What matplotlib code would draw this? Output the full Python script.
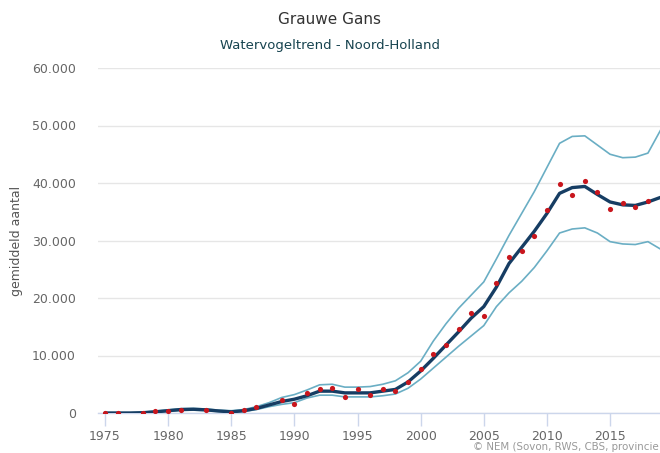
import numpy as np
import matplotlib
matplotlib.use("Agg")
import matplotlib.pyplot as plt
from matplotlib.ticker import FuncFormatter

# jaren en telling (gemiddeld aantal)
years = list(range(1975, 2020))

trend = [0, 0, 0, 50, 200, 400, 600, 650, 550, 350, 200, 400, 800, 1400, 2000,
         2400, 3000, 3800, 3800, 3500, 3500, 3500, 3800, 4100, 5400,
         7300, 9500, 11800, 14100, 16500, 18500, 21900, 26000, 28800, 31600,
         34700, 38200, 39200, 39400, 38000, 36700, 36200, 36100, 36700, 37500]

upper = [50, 50, 50, 150, 350, 550, 750, 800, 700, 500, 400, 600, 1100, 1800, 2700,
         3200, 4000, 4900, 5000, 4500, 4500, 4600, 5000, 5600, 7000,
         9000, 12500, 15500, 18200, 20500, 22800, 26800, 30900, 34700, 38500,
         42700, 46900, 48100, 48200, 46600, 45000, 44400, 44500, 45200, 49200]

lower = [0, 0, 0, 0, 100, 250, 450, 500, 400, 250, 100, 250, 600, 1100, 1500,
         1800, 2600, 3100, 3100, 2800, 2800, 2800, 3000, 3300, 4300,
         5900, 7800, 9700, 11600, 13400, 15200, 18500, 20900, 22900, 25300,
         28200, 31300, 32000, 32200, 31300, 29800, 29400, 29300, 29800, 28500]

dot_years = [1975, 1976, 1978, 1979, 1980, 1981, 1983, 1985, 1986, 1987, 1989,
             1990, 1991, 1992, 1993, 1994, 1995, 1996, 1997, 1998, 1999,
             2000, 2001, 2002, 2003, 2004, 2005, 2006, 2007, 2008, 2009,
             2010, 2011, 2012, 2013, 2014, 2015, 2016, 2017, 2018]
dot_values = [0, 0, 0, 400, 300, 500, 500, 0, 500, 1000, 2300,
              1600, 3400, 4100, 4400, 2800, 4200, 3200, 4200, 3900, 5400,
              7600, 10300, 11800, 14600, 17400, 16900, 22600, 27100, 28200, 30800,
              35300, 39900, 38000, 40300, 38400, 35400, 36600, 35800, 36900]

xticks = [1975, 1980, 1985, 1990, 1995, 2000, 2005, 2010, 2015]
yticks = [0, 10000, 20000, 30000, 40000, 50000, 60000]


def dutch_thousands(v, pos):
    if v == 0:
        return "0"
    return f"{int(v):,}".replace(",", ".")


fig = plt.figure(figsize=(6.6, 4.53), dpi=100)
ax = fig.add_axes([98 / 660, 1 - 413 / 453, 1 - 98 / 660 + 0.02, (413 - 68) / 453])

ax.plot(years, upper, color="#6aaec4", lw=1.2, zorder=2)
ax.plot(years, lower, color="#6aaec4", lw=1.2, zorder=2)
ax.plot(years, trend, color="#163d63", lw=2.4, zorder=3, solid_capstyle="round")
ax.scatter(dot_years, dot_values, s=14, color="#c8161d", zorder=4, linewidths=0)

ax.set_xlim(1974.45, 2020.0)
ax.set_ylim(0, 60000)
ax.set_yticks(yticks)
ax.set_xticks(xticks)
ax.yaxis.set_major_formatter(FuncFormatter(dutch_thousands))
ax.grid(axis="y", color="#e6e6e6", lw=1)
ax.set_axisbelow(True)

for side in ["top", "right", "left"]:
    ax.spines[side].set_visible(False)
ax.spines["bottom"].set_color("#ccd6eb")
ax.spines["bottom"].set_linewidth(1)

ax.tick_params(axis="x", colors="#ccd6eb", length=9, width=1, labelcolor="#666666",
               labelsize=9, pad=3)
ax.tick_params(axis="y", length=0, labelcolor="#666666", labelsize=9, pad=16)

ax.set_ylabel("gemiddeld aantal", fontsize=9, color="#555555", labelpad=6)

fig.text(0.5, 1 - 20 / 453, "Grauwe Gans", ha="center", va="center",
         fontsize=11, color="#333333")
fig.text(0.5, 1 - 45 / 453, "Watervogeltrend - Noord-Holland", ha="center", va="center",
         fontsize=9.5, color="#16434f")
# de bron staat in het origineel afgekapt tegen de rechterrand
fig.text(0.998, 1 - 447 / 453, "© NEM (Sovon, RWS, CBS, provincie", ha="right",
         va="center", fontsize=7.4, color="#999999")

fig.savefig("out.png", dpi=100)
